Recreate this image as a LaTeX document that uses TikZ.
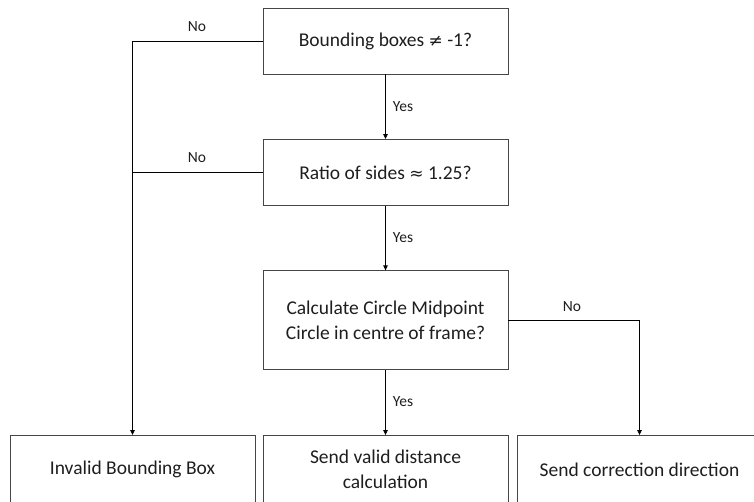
\documentclass[tikz,border=0pt]{standalone}
\usepackage{fontspec}
\setmainfont{Carlito}
\newfontfamily\symfont{DejaVu Sans}
\usetikzlibrary{arrows.meta}
\definecolor{boxline}{RGB}{70,70,70}
\definecolor{ink}{RGB}{30,30,30}
\tikzset{
  stepbox/.style={draw=boxline, line width=0.9pt, rectangle, minimum width=245pt,
    minimum height=66pt, align=center, font=\fontsize{19.5}{25.5}\selectfont, text=ink,
    inner sep=0pt},
  endbox/.style={stepbox, minimum height=68pt},
  flow/.style={draw=black, line width=0.8pt, -{Triangle[length=5pt,width=4.5pt]}},
  link/.style={draw=black, line width=0.8pt},
  tag/.style={font=\fontsize{15.5}{17}\selectfont, text=ink, inner sep=0pt}
}
\begin{document}
\begin{tikzpicture}[x=1pt, y=-1pt]
\useasboundingbox (0,0) rectangle (754,501);
% decision boxes
\node[stepbox] (b1) at (385.5,41) {Bounding boxes {\symfont\fontsize{17}{20}\selectfont ≠} -1?};
\node[stepbox] (b2) at (385.5,172.5) {Ratio of sides {\symfont\fontsize{17}{20}\selectfont ≈} 1.25?};
\node[stepbox, minimum height=99pt] (b3) at (385.5,320.3) {Calculate Circle Midpoint\\Circle in centre of frame?};
% outcome boxes, running off the lower edge of the page
\node[endbox] (bA) at (132.5,469.5) {Invalid Bounding Box};
\node[endbox] (bB) at (385.5,469.5) {Send valid distance\\calculation};
\node[endbox] (bC) at (639.5,469.5) {Send correction direction};
% connectors
\draw[flow] (b1.west) -| (bA.north);
\draw[link] (b2.west) -- (b2.west -| bA.north);
\draw[flow] (b1.south) -- (b2.north);
\draw[flow] (b2.south) -- (b3.north);
\draw[flow] (b3.south) -- (bB.north);
\draw[flow] (b3.east) -| (bC.north);
% branch labels
\node[tag] (n1) at (197,27) {No};
\node[tag] (n2) at (197,158) {No};
\node[tag] (n3) at (572,307) {No};
\node[tag] (y1) at (403,107) {Yes};
\node[tag] (y2) at (403,238) {Yes};
\node[tag] (y3) at (403,402) {Yes};
\end{tikzpicture}
\end{document}
